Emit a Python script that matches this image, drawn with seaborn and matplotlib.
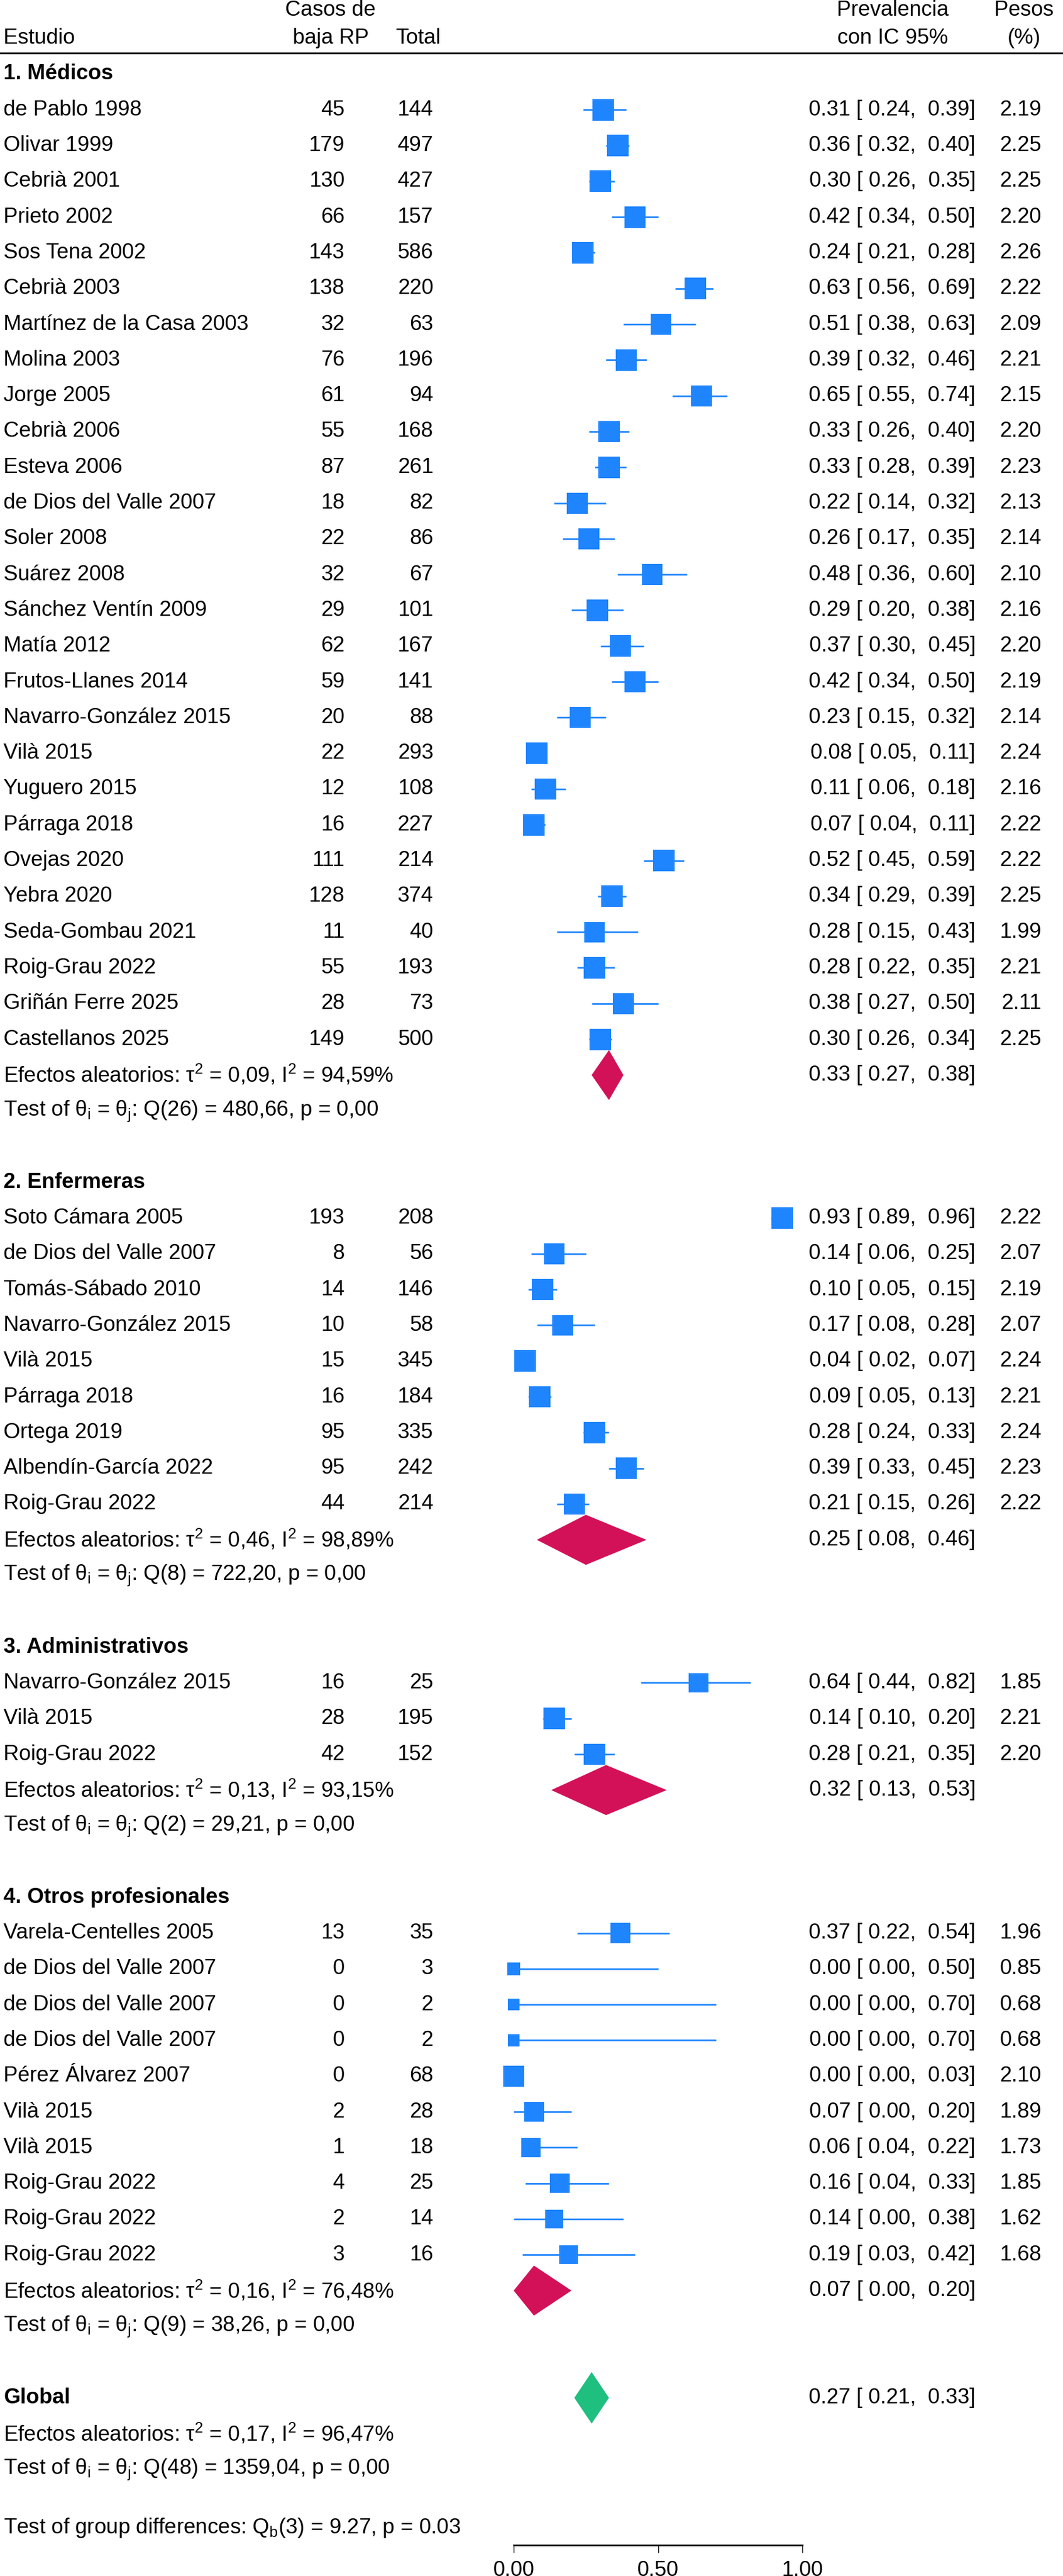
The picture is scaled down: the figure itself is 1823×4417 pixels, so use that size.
import numpy as np
import pandas as pd
import matplotlib
matplotlib.use("Agg")
import matplotlib.pyplot as plt
import matplotlib.transforms as mtransforms
import seaborn as sns

# ---- data ----
groups = ["1. Médicos", "2. Enfermeras", "3. Administrativos", "4. Otros profesionales"]
group_sizes = [27, 9, 3, 10]

studies = [
    "de Pablo 1998", "Olivar 1999", "Cebrià 2001", "Prieto 2002", "Sos Tena 2002",
    "Cebrià 2003", "Martínez de la Casa 2003", "Molina 2003", "Jorge 2005", "Cebrià 2006",
    "Esteva 2006", "de Dios del Valle 2007", "Soler 2008", "Suárez 2008", "Sánchez Ventín 2009",
    "Matía 2012", "Frutos-Llanes 2014", "Navarro-González 2015", "Vilà 2015", "Yuguero 2015",
    "Párraga 2018", "Ovejas 2020", "Yebra 2020", "Seda-Gombau 2021", "Roig-Grau 2022",
    "Griñán Ferre 2025", "Castellanos 2025",
    "Soto Cámara 2005", "de Dios del Valle 2007", "Tomás-Sábado 2010", "Navarro-González 2015",
    "Vilà 2015", "Párraga 2018", "Ortega 2019", "Albendín-García 2022", "Roig-Grau 2022",
    "Navarro-González 2015", "Vilà 2015", "Roig-Grau 2022",
    "Varela-Centelles 2005", "de Dios del Valle 2007", "de Dios del Valle 2007",
    "de Dios del Valle 2007", "Pérez Álvarez 2007", "Vilà 2015", "Vilà 2015",
    "Roig-Grau 2022", "Roig-Grau 2022", "Roig-Grau 2022",
]
cases = [45, 179, 130, 66, 143, 138, 32, 76, 61, 55, 87, 18, 22, 32, 29, 62, 59, 20, 22, 12,
         16, 111, 128, 11, 55, 28, 149,
         193, 8, 14, 10, 15, 16, 95, 95, 44,
         16, 28, 42,
         13, 0, 0, 0, 0, 2, 1, 4, 2, 3]
totals = [144, 497, 427, 157, 586, 220, 63, 196, 94, 168, 261, 82, 86, 67, 101, 167, 141, 88,
          293, 108, 227, 214, 374, 40, 193, 73, 500,
          208, 56, 146, 58, 345, 184, 335, 242, 214,
          25, 195, 152,
          35, 3, 2, 2, 68, 28, 18, 25, 14, 16]
prev = [0.31, 0.36, 0.30, 0.42, 0.24, 0.63, 0.51, 0.39, 0.65, 0.33, 0.33, 0.22, 0.26, 0.48,
        0.29, 0.37, 0.42, 0.23, 0.08, 0.11, 0.07, 0.52, 0.34, 0.28, 0.28, 0.38, 0.30,
        0.93, 0.14, 0.10, 0.17, 0.04, 0.09, 0.28, 0.39, 0.21,
        0.64, 0.14, 0.28,
        0.37, 0.00, 0.00, 0.00, 0.00, 0.07, 0.06, 0.16, 0.14, 0.19]
ci_lo = [0.24, 0.32, 0.26, 0.34, 0.21, 0.56, 0.38, 0.32, 0.55, 0.26, 0.28, 0.14, 0.17, 0.36,
         0.20, 0.30, 0.34, 0.15, 0.05, 0.06, 0.04, 0.45, 0.29, 0.15, 0.22, 0.27, 0.26,
         0.89, 0.06, 0.05, 0.08, 0.02, 0.05, 0.24, 0.33, 0.15,
         0.44, 0.10, 0.21,
         0.22, 0.00, 0.00, 0.00, 0.00, 0.00, 0.04, 0.04, 0.00, 0.03]
ci_hi = [0.39, 0.40, 0.35, 0.50, 0.28, 0.69, 0.63, 0.46, 0.74, 0.40, 0.39, 0.32, 0.35, 0.60,
         0.38, 0.45, 0.50, 0.32, 0.11, 0.18, 0.11, 0.59, 0.39, 0.43, 0.35, 0.50, 0.34,
         0.96, 0.25, 0.15, 0.28, 0.07, 0.13, 0.33, 0.45, 0.26,
         0.82, 0.20, 0.35,
         0.54, 0.50, 0.70, 0.70, 0.03, 0.20, 0.22, 0.33, 0.38, 0.42]
weights = [2.19, 2.25, 2.25, 2.20, 2.26, 2.22, 2.09, 2.21, 2.15, 2.20, 2.23, 2.13, 2.14, 2.10,
           2.16, 2.20, 2.19, 2.14, 2.24, 2.16, 2.22, 2.22, 2.25, 1.99, 2.21, 2.11, 2.25,
           2.22, 2.07, 2.19, 2.07, 2.24, 2.21, 2.24, 2.23, 2.22,
           1.85, 2.21, 2.20,
           1.96, 0.85, 0.68, 0.68, 2.10, 1.89, 1.73, 1.85, 1.62, 1.68]

group_est = [0.33, 0.25, 0.32, 0.07]
group_lo = [0.27, 0.08, 0.13, 0.00]
group_hi = [0.38, 0.46, 0.53, 0.20]
group_tau2 = [0.09, 0.46, 0.13, 0.16]
group_i2 = [94.59, 98.89, 93.15, 76.48]
group_q = [480.66, 722.20, 29.21, 38.26]
group_df = [26, 8, 2, 9]
group_p = [0.00, 0.00, 0.00, 0.00]

global_est, global_lo, global_hi = 0.27, 0.21, 0.33
global_tau2, global_i2 = 0.17, 96.47
global_q, global_df, global_p = 1359.04, 48, 0.00
qb, qb_df, qb_p = 9.27, 3, 0.03

BLUE = "#1F85FF"
RED = "#D31159"
GREEN = "#1FBF7F"

# ---- row layout ----
study_rows, header_rows, summary_rows, test_rows = [], [], [], []
r = 0
for g, n in enumerate(group_sizes):
    header_rows.append(r)
    r += 1
    for _ in range(n):
        study_rows.append(r)
        r += 1
    summary_rows.append(r)
    test_rows.append(r + 1)
    r += 3
global_row = r
diff_row = global_row + 3.63
axis_row = global_row + 4.12

df = pd.DataFrame({"study": studies, "cases": cases, "total": totals, "prev": prev,
                   "lo": ci_lo, "hi": ci_hi, "w": weights, "row": study_rows})

W, H = 1823, 4417
TOP_PX, ROW_PX = 127, 61.3

def dc(x):
    return f"{x:.2f}".replace(".", ",")

def ci_text(e, l, h):
    return f"{e:.2f} [{l:5.2f}, {h:5.2f}]"

def px(x):
    return x / W

sns.set_theme(style="white")
plt.rcParams["font.family"] = ["Liberation Sans", "DejaVu Sans"]
plt.rcParams["mathtext.fontset"] = "custom"
plt.rcParams["mathtext.rm"] = "Liberation Sans"
FS = 26.5

fig = plt.figure(figsize=(W / 100, H / 100), dpi=100)
ax = fig.add_axes([881 / W, 0, 495 / W, 1])
ax.set_xlim(0, 1)
ax.set_ylim((H - TOP_PX) / ROW_PX, -TOP_PX / ROW_PX)

# confidence intervals and study squares
ax.hlines(df["row"], df["lo"], df["hi"], color=BLUE, lw=2, clip_on=False)
sns.scatterplot(data=df, x="prev", y="row", marker="s", s=316 * df["w"], color=BLUE,
                linewidth=0, legend=False, ax=ax, clip_on=False, zorder=3)

# subgroup diamonds
for g in range(4):
    y = summary_rows[g]
    ax.fill([group_lo[g], group_est[g], group_hi[g], group_est[g]],
            [y, y - 0.7, y, y + 0.7], color=RED, lw=0, clip_on=False, zorder=3)
ax.fill([global_lo, global_est, global_hi, global_est],
        [global_row, global_row - 0.72, global_row, global_row + 0.72],
        color=GREEN, lw=0, clip_on=False, zorder=3)

tr = mtransforms.blended_transform_factory(fig.transFigure, ax.transData)

def txt(x, y, s, ha="left", **kw):
    ax.text(px(x), y, s, transform=tr, ha=ha, va="center", fontsize=FS, color="black",
            clip_on=False, **kw)

# header
txt(6, -1.01, "Estudio")
txt(567, -1.79, "Casos de", ha="center")
txt(567, -1.01, "baja RP", ha="center")
txt(717, -1.01, "Total", ha="center")
txt(1531, -1.79, "Prevalencia", ha="center")
txt(1531, -1.01, "con IC 95%", ha="center")
txt(1756, -1.79, "Pesos", ha="center")
txt(1756, -1.01, "(%)", ha="center")
ax.plot([0, 1], [-0.587, -0.587], transform=tr, color="black", lw=2.2, clip_on=False)

# study rows
for _, row in df.iterrows():
    y = row["row"]
    txt(6, y, row["study"])
    txt(591, y, str(row["cases"]), ha="right")
    txt(743, y, str(row["total"]), ha="right")
    txt(1673, y, ci_text(row["prev"], row["lo"], row["hi"]), ha="right")
    txt(1786, y, f"{row['w']:.2f}", ha="right")

# group headers and summaries
for g in range(4):
    txt(6, header_rows[g], groups[g], fontweight="bold")
    txt(6, summary_rows[g],
        f"Efectos aleatorios: τ$^\\mathregular{{2}}$ = {dc(group_tau2[g])}, "
        f"I$^\\mathregular{{2}}$ = {dc(group_i2[g])}%")
    txt(1673, summary_rows[g], ci_text(group_est[g], group_lo[g], group_hi[g]), ha="right")
    txt(6, test_rows[g],
        f"Test of θ$_\\mathregular{{i}}$ = θ$_\\mathregular{{j}}$: Q({group_df[g]}) = "
        f"{dc(group_q[g])}, p = {dc(group_p[g])}")

# overall
txt(6, global_row, "Global", fontweight="bold")
txt(1673, global_row, ci_text(global_est, global_lo, global_hi), ha="right")
txt(6, global_row + 1,
    f"Efectos aleatorios: τ$^\\mathregular{{2}}$ = {dc(global_tau2)}, "
    f"I$^\\mathregular{{2}}$ = {dc(global_i2)}%")
txt(6, global_row + 2,
    f"Test of θ$_\\mathregular{{i}}$ = θ$_\\mathregular{{j}}$: Q({global_df}) = "
    f"{dc(global_q)}, p = {dc(global_p)}")
txt(6, diff_row,
    f"Test of group differences: Q$_\\mathregular{{b}}$({qb_df}) = {qb:.2f}, p = {qb_p:.2f}")

# x axis
for side in ["top", "left", "right"]:
    ax.spines[side].set_visible(False)
ax.spines["bottom"].set_position(("data", axis_row))
ax.spines["bottom"].set_bounds(0, 1)
ax.spines["bottom"].set_linewidth(2)
ax.spines["bottom"].set_color("black")
ax.set_yticks([])
ax.set_xticks([0, 0.5, 1])
ax.set_xticklabels(["0.00", "0.50", "1.00"])
ax.tick_params(axis="x", direction="out", length=9, width=1, pad=10, labelsize=FS,
               bottom=True, colors="black")
ax.set_xlabel("")
ax.set_ylabel("")
ax.patch.set_visible(False)

fig.savefig("out.png", dpi=100, facecolor="white")
